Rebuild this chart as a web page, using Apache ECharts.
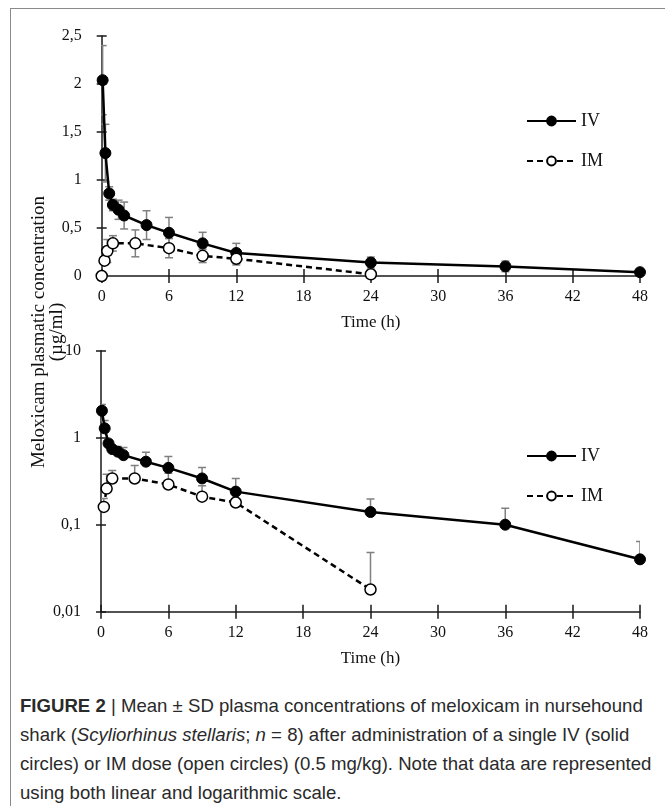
<!DOCTYPE html>
<html>
<head>
<meta charset="utf-8">
<script src="https://cdn.jsdelivr.net/npm/echarts@6/dist/echarts.min.js"></script>
<style>
html,body{margin:0;padding:0;background:#fff;}
#wrap{position:relative;width:665px;height:806px;overflow:hidden;background:#fff;}
#frame{position:absolute;left:10px;top:8px;width:700px;height:900px;border-left:1px solid #8a8a8a;border-top:1px solid #8a8a8a;}
#chart{position:absolute;left:0;top:0;width:665px;height:680px;}
#cap{position:absolute;left:20px;top:691px;font-family:"Liberation Sans",Arial,sans-serif;font-size:18.6px;line-height:29px;color:#2a2a2a;white-space:nowrap;}
#cap b{font-weight:bold;}
</style>
</head>
<body>
<div id="wrap">
  <div id="frame"></div>
  <div id="chart"></div>
  <div id="cap"><b>FIGURE 2</b> | Mean ± SD plasma concentrations of meloxicam in nursehound<br>shark (<i>Scyliorhinus stellaris</i>; <i>n</i> = 8) after administration of a single IV (solid<br>circles) or IM dose (open circles) (0.5 mg/kg). Note that data are represented<br>using both linear and logarithmic scale.</div>
</div>
<script>
// ---- data ----
const ivTime = [0.083, 0.33, 0.67, 1, 1.5, 2, 4, 6, 9, 12, 24, 36, 48];
const ivMean = [2.04, 1.28, 0.86, 0.74, 0.69, 0.63, 0.53, 0.45, 0.34, 0.24, 0.14, 0.10, 0.04];
const ivSD   = [0.36, 0.30, 0.07, 0.06, 0.10, 0.14, 0.15, 0.16, 0.115, 0.10, 0.057, 0.055, 0.024];
const imTime = [0, 0.25, 0.5, 1, 3, 6, 9, 12, 24];
const imMean = [0, 0.16, 0.26, 0.34, 0.34, 0.29, 0.21, 0.18, 0.018];
const imSD   = [0, 0.04, 0.12, 0.08, 0.14, 0.10, 0.07, 0.065, 0.03];
const xTicks = [0, 6, 12, 18, 24, 30, 36, 42, 48];
const linTicks = ['0', '0,5', '1', '1,5', '2', '2,5'];
const logTicks = ['0,01', '0,1', '1', '10'];

const serif = '"Liberation Serif","Times New Roman",serif';
const axisCol = '#1a1a1a';

function pts(t, m, sd, logMode) {
  const out = [];
  for (let i = 0; i < t.length; i++) {
    if (logMode && m[i] <= 0) continue;
    out.push([t[i], m[i], sd[i]]);
  }
  return out;
}

function errRender(logMode) {
  return function (params, api) {
    const x = api.value(0), m = api.value(1), sd = api.value(2);
    if (sd <= 0) return null;
    const hi = m + sd;
    const lo = logMode ? m : Math.max(m - sd, 0);
    const pH = api.coord([x, hi]);
    const pL = api.coord([x, lo]);
    const w = 4;
    const st = { stroke: '#808080', lineWidth: 1.5 };
    const ch = [
      { type: 'line', shape: { x1: pH[0], y1: pH[1], x2: pL[0], y2: pL[1] }, style: st },
      { type: 'line', shape: { x1: pH[0] - w, y1: pH[1], x2: pH[0] + w, y2: pH[1] }, style: st }
    ];
    if (!logMode && m - sd > 0) {
      ch.push({ type: 'line', shape: { x1: pL[0] - w, y1: pL[1], x2: pL[0] + w, y2: pL[1] }, style: st });
    }
    return { type: 'group', children: ch };
  };
}

function xAx(grid, inside, named) {
  return {
    type: 'value', gridIndex: grid, position: 'bottom', min: 0, max: 48, interval: 6,
    axisLine: { show: !inside, onZero: false, lineStyle: { color: axisCol, width: 1.5 } },
    axisTick: { show: true, inside: inside, length: 7, lineStyle: { color: axisCol, width: 1.5 } },
    axisLabel: { show: !inside, margin: 13, color: '#111', fontFamily: serif, fontSize: 16,
      formatter: function (v) { return xTicks.indexOf(v) >= 0 ? String(v) : ''; } },
    splitLine: { show: false },
    name: named ? 'Time (h)' : '', nameLocation: 'middle', nameGap: 38,
    nameTextStyle: { color: '#111', fontFamily: serif, fontSize: 17 }
  };
}
function yLin(inside) {
  return {
    type: 'value', gridIndex: 0, position: 'left', min: 0, max: 2.5, interval: 0.5,
    axisLine: { show: !inside, onZero: false, lineStyle: { color: axisCol, width: 1.5 } },
    axisTick: { show: true, inside: inside, length: 5, lineStyle: { color: axisCol, width: 1.5 } },
    axisLabel: { show: !inside, margin: 20, color: '#111', fontFamily: serif, fontSize: 16,
      formatter: function (v) { return linTicks[Math.round(v / 0.5)]; } },
    splitLine: { show: false }
  };
}
function yLog(inside) {
  return {
    type: 'log', logBase: 10, gridIndex: 1, position: 'left', min: 0.01, max: 10,
    axisLine: { show: !inside, onZero: false, lineStyle: { color: axisCol, width: 1.5 } },
    axisTick: { show: true, inside: inside, length: 5, lineStyle: { color: axisCol, width: 1.5 } },
    minorTick: { show: false },
    axisLabel: { show: !inside, margin: 20, color: '#111', fontFamily: serif, fontSize: 16,
      formatter: function (v) { return logTicks[Math.round(Math.log10(v)) + 2]; } },
    splitLine: { show: false }
  };
}

const lineSeries = function (name, t, m, sd, xi, yi, logMode) {
  const isIV = name === 'IV';
  return {
    name: name, type: 'line', xAxisIndex: xi, yAxisIndex: yi, z: 3,
    data: pts(t, m, sd, logMode).map(function (p) { return [p[0], p[1]]; }),
    symbol: 'circle', symbolSize: 11, showSymbol: true,
    lineStyle: { color: '#000', width: 2.5, type: isIV ? 'solid' : [6, 4] },
    itemStyle: isIV ? { color: '#000', borderColor: '#000', borderWidth: 1 } : { color: '#fff', borderColor: '#000', borderWidth: 1.5 },
    emphasis: { disabled: true }, animation: false
  };
};
const errSeries = function (t, m, sd, xi, yi, logMode) {
  return {
    type: 'custom', xAxisIndex: xi, yAxisIndex: yi, z: 1, clip: true,
    renderItem: errRender(logMode), data: pts(t, m, sd, logMode),
    encode: { x: 0, y: 1 }, animation: false, silent: true
  };
};

const legendBase = {
  data: ['IV', 'IM'], orient: 'vertical', left: 526, padding: 0, itemWidth: 49, itemHeight: 11, itemGap: 22,
  selectedMode: false,
  textStyle: { color: '#111', fontFamily: serif, fontSize: 18 }
};

const chart = echarts.init(document.getElementById('chart'), null, { renderer: 'canvas' });
chart.setOption({
  animation: false,
  backgroundColor: 'transparent',
  grid: [
    { left: 101.7, top: 36, width: 538.3, height: 240 },
    { left: 101, top: 350.7, width: 539, height: 261 }
  ],
  xAxis: [xAx(0, false, true), xAx(0, true, false), xAx(1, false, true), xAx(1, true, false)],
  yAxis: [yLin(false), yLin(true), yLog(false), yLog(true)],
  legend: [
    Object.assign({}, legendBase, { top: 112 }),
    Object.assign({}, legendBase, { top: 447 })
  ],
  graphic: [{
    type: 'text', x: 48.5, y: 332, rotation: Math.PI / 2,
    style: { text: 'Meloxicam plasmatic concentration\n(µg/ml)', font: '19px ' + serif,
      fill: '#111', align: 'center', verticalAlign: 'middle', lineHeight: 18 }
  }],
  series: [
    errSeries(ivTime, ivMean, ivSD, 0, 0, false),
    errSeries(imTime, imMean, imSD, 0, 0, false),
    errSeries(ivTime, ivMean, ivSD, 2, 2, true),
    errSeries(imTime, imMean, imSD, 2, 2, true),
    lineSeries('IV', ivTime, ivMean, ivSD, 0, 0, false),
    lineSeries('IM', imTime, imMean, imSD, 0, 0, false),
    lineSeries('IV', ivTime, ivMean, ivSD, 2, 2, true),
    lineSeries('IM', imTime, imMean, imSD, 2, 2, true)
  ]
});
</script>
</body>
</html>
